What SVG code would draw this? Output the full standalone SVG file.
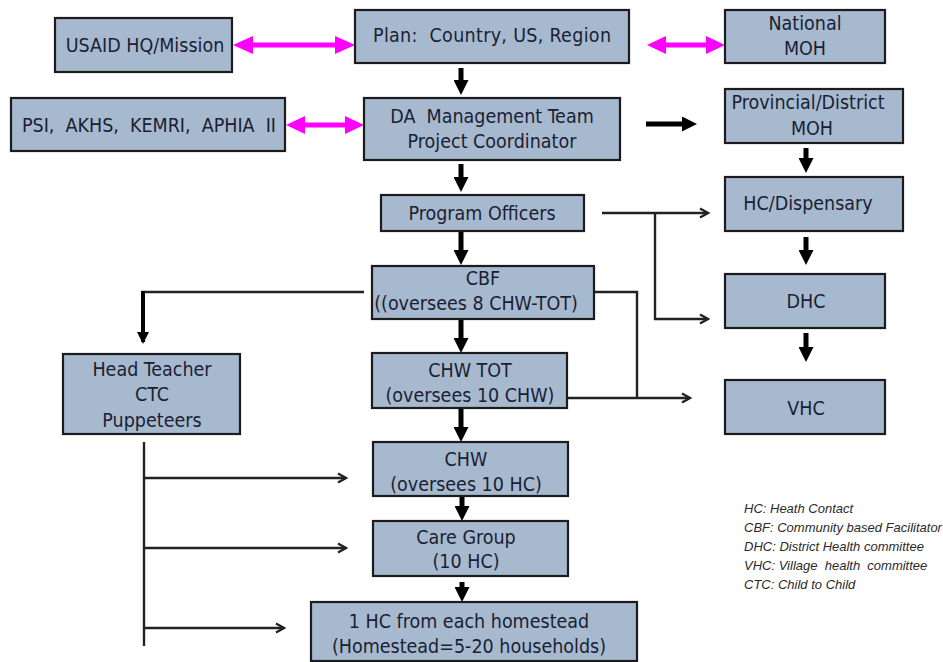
<svg xmlns="http://www.w3.org/2000/svg" width="943" height="662" viewBox="0 0 943 662">
<defs>
<style>
.box{fill:#a7b9cf;stroke:#1c1c1c;stroke-width:2.2}
.t{font-family:"DejaVu Sans Condensed","DejaVu Sans",sans-serif;font-size:19.5px;fill:#1a1f33;text-anchor:middle}
.leg{font-family:"Liberation Sans",Arial,sans-serif;font-style:italic;font-size:13px;fill:#2a2a2a}
.thick{stroke:#000;stroke-width:5;fill:none}
.thin{stroke:#222;stroke-width:2.4;fill:none}
.mag{fill:#ff00ff}
</style>
<marker id="ah" markerWidth="3" markerHeight="3" refX="1.6" refY="1.5" orient="auto" markerUnits="strokeWidth"><path d="M0,0 L3,1.5 L0,3 Z" fill="#000"/></marker>
<marker id="ah2" markerWidth="14" markerHeight="12" refX="10" refY="6" orient="auto" markerUnits="userSpaceOnUse"><path d="M0,0 L12,6 L0,12 Z" fill="#000"/></marker>
<marker id="oa" markerWidth="12" markerHeight="12" refX="10" refY="6" orient="auto" markerUnits="userSpaceOnUse"><path d="M2,1.5 L10,6 L2,10.5" fill="none" stroke="#222" stroke-width="2.2"/></marker>
</defs>
<rect width="943" height="662" fill="#fff"/>
<g id="connectors">
<path class="mag" d="M233,45 L253,36 L253,42.5 L335,42.5 L335,36 L355,45 L335,54 L335,47.5 L253,47.5 L253,54 Z"/>
<path class="mag" d="M286,125 L305,116 L305,122.5 L345,122.5 L345,116 L364,125 L345,134 L345,127.5 L305,127.5 L305,134 Z"/>
<path class="mag" d="M647,45 L666,36 L666,42.5 L706,42.5 L706,36 L725,45 L706,54 L706,47.5 L666,47.5 L666,54 Z"/>
<line class="thick" x1="461" y1="68" x2="461" y2="88" marker-end="url(#ah)"/>
<line class="thick" x1="461" y1="164" x2="461" y2="185" marker-end="url(#ah)"/>
<line class="thick" x1="461" y1="231" x2="461" y2="258" marker-end="url(#ah)"/>
<line class="thick" x1="461" y1="319" x2="461" y2="346" marker-end="url(#ah)"/>
<line class="thick" x1="461" y1="408" x2="461" y2="435" marker-end="url(#ah)"/>
<line class="thick" x1="462" y1="496" x2="462" y2="514" marker-end="url(#ah)"/>
<line class="thick" x1="462" y1="582" x2="462" y2="595" marker-end="url(#ah)"/>
<line class="thick" x1="646" y1="124" x2="690" y2="124" marker-end="url(#ah)"/>
<line class="thick" x1="806" y1="148" x2="806" y2="166" marker-end="url(#ah)"/>
<line class="thick" x1="806" y1="237" x2="806" y2="258" marker-end="url(#ah)"/>
<line class="thick" x1="806" y1="333" x2="806" y2="355" marker-end="url(#ah)"/>
<path class="thin" d="M602,213 H708" marker-end="url(#oa)"/>
<path class="thin" d="M655,213 V319 H708" marker-end="url(#oa)"/>
<path class="thin" d="M566,292 H637 V398"/>
<path class="thin" d="M567,398 H690" marker-end="url(#oa)"/>
<path class="thin" d="M364,292 H142"/>
<line x1="143" y1="291" x2="143" y2="342" stroke="#000" stroke-width="4" marker-end="url(#ah2)"/>
<path class="thin" d="M144,442 V646"/>
<path class="thin" d="M144,478 H346" marker-end="url(#oa)"/>
<path class="thin" d="M144,548 H346" marker-end="url(#oa)"/>
<path class="thin" d="M144,628 H284" marker-end="url(#oa)"/>
</g>
<g id="usaid"><rect class="box" x="55" y="18" width="177" height="54"/><text class="t" x="145" y="52">USAID HQ/Mission</text></g>
<g id="plan"><rect class="box" x="355" y="10" width="274" height="53"/><text class="t" x="492" y="42" xml:space="preserve" textLength="238" lengthAdjust="spacing">Plan:  Country, US, Region</text></g>
<g id="national"><rect class="box" x="725" y="10" width="160" height="53"/><text class="t" x="805" y="30">National</text><text class="t" x="805" y="55">MOH</text></g>
<g id="psi"><rect class="box" x="11" y="98" width="274" height="53"/><text class="t" x="149" y="132" xml:space="preserve" textLength="254" lengthAdjust="spacing">PSI,  AKHS,  KEMRI,  APHIA  II</text></g>
<g id="da"><rect class="box" x="364" y="98" width="256" height="62"/><text class="t" x="492" y="123" xml:space="preserve">DA  Management Team</text><text class="t" x="492" y="148">Project Coordinator</text></g>
<g id="provincial"><rect class="box" x="725" y="89" width="178" height="54"/><text class="t" x="808" y="109">Provincial/District</text><text class="t" x="812" y="135">MOH</text></g>
<g id="program"><rect class="box" x="381" y="195" width="203" height="36"/><text class="t" x="482" y="220">Program Officers</text></g>
<g id="hcdisp"><rect class="box" x="725" y="177" width="178" height="54"/><text class="t" x="808" y="210">HC/Dispensary</text></g>
<g id="cbf"><rect class="box" x="372" y="266" width="222" height="53"/><text class="t" x="483" y="285">CBF</text><text class="t" x="476" y="310">((oversees 8 CHW-TOT)</text></g>
<g id="dhc"><rect class="box" x="725" y="274" width="160" height="54"/><text class="t" x="806" y="308">DHC</text></g>
<g id="headteacher"><rect class="box" x="63" y="354" width="177" height="80"/><text class="t" x="152" y="376">Head Teacher</text><text class="t" x="152" y="401">CTC</text><text class="t" x="152" y="427">Puppeteers</text></g>
<g id="chwtot"><rect class="box" x="372" y="353" width="195" height="55"/><text class="t" x="470" y="377">CHW TOT</text><text class="t" x="470" y="402">(oversees 10 CHW)</text></g>
<g id="vhc"><rect class="box" x="725" y="380" width="160" height="54"/><text class="t" x="806" y="415">VHC</text></g>
<g id="chw"><rect class="box" x="373" y="442" width="195" height="54"/><text class="t" x="466" y="466">CHW</text><text class="t" x="466" y="491">(oversees 10 HC)</text></g>
<g id="caregroup"><rect class="box" x="373" y="521" width="195" height="55"/><text class="t" x="466" y="544">Care Group</text><text class="t" x="466" y="568">(10 HC)</text></g>
<g id="onehc"><rect class="box" x="311" y="602" width="326" height="59"/><text class="t" x="469" y="628">1 HC from each homestead</text><text class="t" x="469" y="653">(Homestead=5-20 households)</text></g>
<g id="legend">
<text class="leg" x="744" y="513">HC: Heath Contact</text>
<text class="leg" x="744" y="532">CBF: Community based Facilitator</text>
<text class="leg" x="744" y="551">DHC: District Health committee</text>
<text class="leg" x="744" y="570" xml:space="preserve">VHC: Village  health  committee</text>
<text class="leg" x="744" y="589">CTC: Child to Child</text>
</g>
</svg>
